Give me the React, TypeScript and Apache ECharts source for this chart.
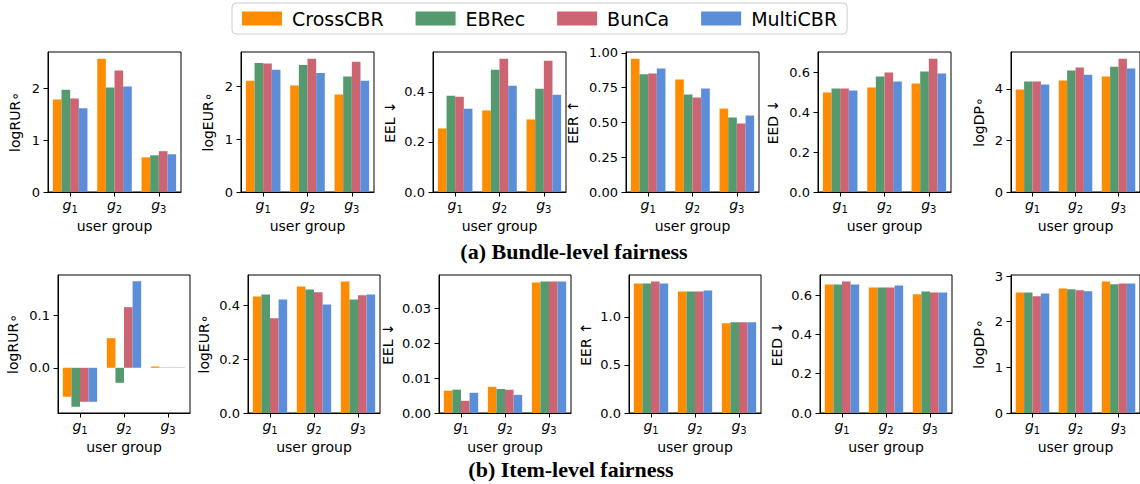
import React, { useEffect, useRef } from 'react';
import * as echarts from 'echarts';

const methods = ['CrossCBR', 'EBRec', 'BunCa', 'MultiCBR'];
const colors = ['#ff8c00', '#55996e', '#cc6471', '#5b8dd9'];
const groups = ['g1', 'g2', 'g3'];

// each panel: rows in method order, columns g1, g2, g3
const bundleLogRUR = [[1.79, 2.58, 0.67], [1.98, 2.02, 0.71], [1.81, 2.35, 0.79], [1.62, 2.04, 0.73]];
const bundleLogEUR = [[2.11, 2.02, 1.85], [2.45, 2.41, 2.19], [2.44, 2.53, 2.47], [2.32, 2.26, 2.11]];
const bundleEEL = [[0.254, 0.326, 0.29], [0.385, 0.489, 0.413], [0.381, 0.533, 0.525], [0.333, 0.425, 0.389]];
const bundleEER = [[0.959, 0.809, 0.6], [0.847, 0.701, 0.536], [0.852, 0.679, 0.493], [0.888, 0.744, 0.55]];
const bundleEED = [[0.5, 0.525, 0.545], [0.52, 0.58, 0.605], [0.52, 0.6, 0.67], [0.51, 0.555, 0.595]];
const bundleLogDP = [[3.97, 4.32, 4.48], [4.28, 4.71, 4.86], [4.28, 4.83, 5.17], [4.17, 4.55, 4.79]];

const itemLogRUR = [[-0.0554, 0.0567, 0.0025], [-0.0745, -0.0287, 0.0006], [-0.065, 0.116, 0.0006], [-0.065, 0.1656, 0.0006]];
const itemLogEUR = [[0.432, 0.469, 0.487], [0.439, 0.458, 0.421], [0.351, 0.447, 0.436], [0.421, 0.402, 0.439]];
const itemEEL = [[0.0064, 0.0075, 0.0374], [0.0067, 0.0069, 0.0377], [0.0035, 0.0067, 0.0377], [0.0058, 0.0052, 0.0377]];
const itemEER = [[1.348, 1.266, 0.934], [1.348, 1.266, 0.945], [1.369, 1.266, 0.945], [1.348, 1.276, 0.945]];
const itemEED = [[0.654, 0.639, 0.604], [0.654, 0.639, 0.619], [0.669, 0.639, 0.614], [0.654, 0.649, 0.614]];
const itemLogDP = [[2.64, 2.73, 2.88], [2.64, 2.71, 2.82], [2.56, 2.69, 2.84], [2.62, 2.67, 2.84]];

// tick labels
const ticksInt012 = [0, 1, 2];
const ticks024 = [0, 2, 4];
const ticks0123 = [0, 1, 2, 3];
const ticksTenths = [0, 0.2, 0.4];
const ticksTenths06 = [0, 0.2, 0.4, 0.6];
const ticksQuarter = [0, 0.25, 0.5, 0.75, 1.0];
const ticksRUR = [0, 0.1];
const ticksEEL = [0, 0.01, 0.02, 0.03];
const ticksHalf = [0, 0.5, 1.0];

const FONT = 'DejaVu Sans';

const panels = [
  { data: bundleLogRUR, name: 'logRUR∘', ticks: ticksInt012, dec: 0, left: 48, top: 52, width: 133, height: 140, gap: 26 },
  { data: bundleLogEUR, name: 'logEUR∘', ticks: ticksInt012, dec: 0, left: 241, top: 52, width: 133, height: 140, gap: 26 },
  { data: bundleEEL, name: 'EEL ↓', ticks: ticksTenths, dec: 1, left: 433, top: 52, width: 133, height: 140, gap: 36 },
  { data: bundleEER, name: 'EER ↑', ticks: ticksQuarter, dec: 2, left: 626, top: 52, width: 133, height: 140, gap: 46 },
  { data: bundleEED, name: 'EED ↓', ticks: ticksTenths06, dec: 1, left: 818, top: 52, width: 133, height: 140, gap: 38 },
  { data: bundleLogDP, name: 'logDP∘', ticks: ticks024, dec: 0, left: 1011, top: 52, width: 133, height: 140, gap: 25 },
  { data: itemLogRUR, name: 'logRUR∘', ticks: ticksRUR, dec: 1, left: 58, top: 275, width: 132, height: 138, gap: 38 },
  { data: itemLogEUR, name: 'logEUR∘', ticks: ticksTenths, dec: 1, left: 248, top: 275, width: 132, height: 138, gap: 37 },
  { data: itemEEL, name: 'EEL ↓', ticks: ticksEEL, dec: 2, left: 439, top: 275, width: 132, height: 138, gap: 44 },
  { data: itemEER, name: 'EER ↑', ticks: ticksHalf, dec: 1, left: 629, top: 275, width: 132, height: 138, gap: 36 },
  { data: itemEED, name: 'EED ↓', ticks: ticksTenths06, dec: 1, left: 820, top: 275, width: 132, height: 138, gap: 36 },
  { data: itemLogDP, name: 'logDP∘', ticks: ticks0123, dec: 0, left: 1011, top: 275, width: 133, height: 138, gap: 25 },
];

function buildOption() {
  const grid: any[] = [];
  const xAxis: any[] = [];
  const yAxis: any[] = [];
  const series: any[] = [];
  panels.forEach((p, i) => {
    const all = p.data.flat();
    const hi = Math.max(0, ...all);
    const lo = Math.min(0, ...all);
    const span = hi - lo;
    const yMin = lo < 0 ? lo - 0.05 * span : 0;
    const yMax = hi + 0.05 * span;
    grid.push({ left: p.left, top: p.top, width: p.width, height: p.height, show: true, borderColor: '#000', borderWidth: 1, backgroundColor: 'transparent' });
    xAxis.push({
      type: 'category',
      gridIndex: i,
      data: groups,
      z: 5,
      axisLine: { show: true, onZero: false, lineStyle: { color: '#000', width: 1 } },
      axisTick: { show: true, alignWithLabel: true, interval: 0, length: 4.5, lineStyle: { color: '#000', width: 1 } },
      axisLabel: {
        interval: 0,
        hideOverlap: false,
        margin: 6,
        formatter: (v: string) => `{g|g}{s|${v.slice(1)}}`,
        rich: {
          g: { fontFamily: FONT, fontStyle: 'italic', fontSize: 14, color: '#000', verticalAlign: 'bottom', padding: [0, 0, 2, 0] },
          s: { fontFamily: FONT, fontSize: 10, color: '#000', verticalAlign: 'bottom' },
        },
      },
      name: 'user group',
      nameLocation: 'middle',
      nameGap: 27,
      nameTextStyle: { fontFamily: FONT, fontSize: 14, color: '#000' },
    });
    yAxis.push({
      type: 'value',
      gridIndex: i,
      min: yMin,
      max: yMax,
      z: 5,
      axisLine: { show: true, onZero: false, lineStyle: { color: '#000', width: 1 } },
      axisTick: { show: true, length: 4.5, customValues: p.ticks, lineStyle: { color: '#000', width: 1 } },
      axisLabel: {
        customValues: p.ticks,
        margin: 8,
        fontFamily: FONT,
        fontSize: 13,
        color: '#000',
        formatter: (v: number) => Number(v).toFixed(p.dec),
      },
      splitLine: { show: false },
      name: p.name,
      nameLocation: 'middle',
      nameRotate: 90,
      nameGap: p.gap,
      nameTextStyle: { fontFamily: FONT, fontSize: 14, color: '#000' },
    });
    methods.forEach((m, k) => {
      series.push({
        type: 'bar',
        name: m,
        xAxisIndex: i,
        yAxisIndex: i,
        data: p.data[k],
        itemStyle: { color: colors[k] },
        barGap: '0%',
        barCategoryGap: '22%',
        silent: true,
      });
    });
  });
  return {
    animation: false,
    backgroundColor: '#fff',
    textStyle: { fontFamily: FONT },
    legend: {
      data: methods,
      left: 232,
      top: 3,
      itemWidth: 40,
      itemHeight: 14,
      itemGap: 32,
      icon: 'rect',
      padding: [6, 10],
      borderColor: '#cccccc',
      borderWidth: 1,
      borderRadius: 4,
      selectedMode: false,
      textStyle: { fontFamily: FONT, fontSize: 19, color: '#000', padding: [0, 0, 0, 5] },
    },
    grid,
    xAxis,
    yAxis,
    series,
    graphic: [
      {
        type: 'text',
        x: 574,
        y: 251,
        style: { text: '(a) Bundle-level fairness', fontFamily: 'Liberation Serif', fontWeight: 'bold', fontSize: 22, fill: '#000', textAlign: 'center', textVerticalAlign: 'middle' },
      },
      {
        type: 'text',
        x: 571,
        y: 469,
        style: { text: '(b) Item-level fairness', fontFamily: 'Liberation Serif', fontWeight: 'bold', fontSize: 22, fill: '#000', textAlign: 'center', textVerticalAlign: 'middle' },
      },
    ],
  };
}

export default function App() {
  const ref = useRef<HTMLDivElement>(null);
  useEffect(() => {
    if (!ref.current) return;
    const chart = echarts.init(ref.current, undefined, { renderer: 'svg' });
    chart.setOption(buildOption() as any);
    return () => chart.dispose();
  }, []);
  return <div ref={ref} style={{ position: 'absolute', left: 0, top: 0, width: 1140, height: 484 }} />;
}
